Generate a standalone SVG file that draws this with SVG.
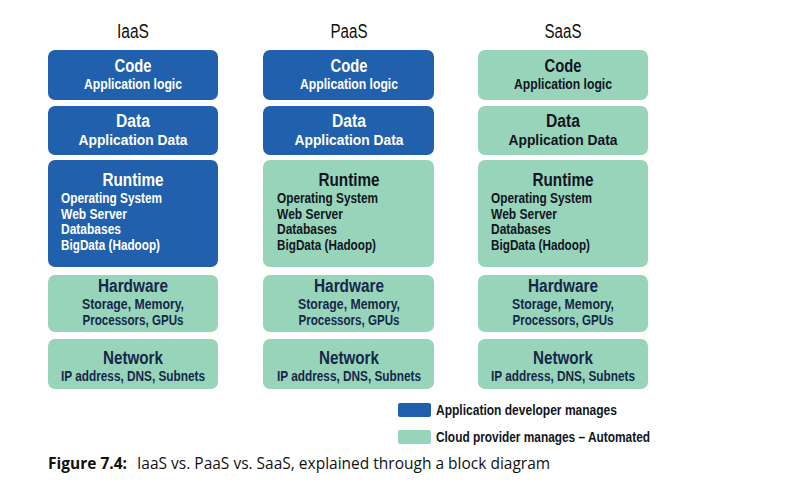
<svg xmlns="http://www.w3.org/2000/svg" width="808" height="483" viewBox="0 0 808 483">
<style>
.b{fill:#2160ad}
.g{fill:#98d4b9}
.t{font-family:"Liberation Sans",Arial,sans-serif;font-weight:bold;text-anchor:middle}
.h{font-size:18px}
.s{font-size:14px}
.m{font-size:15.5px}
.l{text-anchor:start}
.w{fill:#ffffff}
.k{fill:#111522}
.n{fill:#15284a}
.title{font-family:"Liberation Sans",Arial,sans-serif;font-size:20px;text-anchor:middle;fill:#111}
.cap{font-family:"Open Sans","Noto Sans",sans-serif;font-size:15.5px;fill:#111}
</style>
<rect width="808" height="483" fill="#fff"/>
<g id="titles">
<text class="title" x="133" y="38" textLength="32" lengthAdjust="spacingAndGlyphs">IaaS</text>
<text class="title" x="349" y="38" textLength="37" lengthAdjust="spacingAndGlyphs">PaaS</text>
<text class="title" x="563" y="38" textLength="37" lengthAdjust="spacingAndGlyphs">SaaS</text>
</g>
<!-- IaaS -->
<g id="iaas-code"><rect class="b" x="48" y="50" width="170" height="50" rx="7"/>
<text class="t h w" x="133" y="72" textLength="37" lengthAdjust="spacingAndGlyphs">Code</text><text class="t s w" x="133" y="88.5" textLength="98" lengthAdjust="spacingAndGlyphs">Application logic</text></g>
<g id="iaas-data"><rect class="b" x="48" y="106" width="170" height="49" rx="7"/>
<text class="t h w" x="133" y="126.5" textLength="34" lengthAdjust="spacingAndGlyphs">Data</text><text class="t m w" x="133" y="145" textLength="109" lengthAdjust="spacingAndGlyphs">Application Data</text></g>
<g id="iaas-runtime"><rect class="b" x="48" y="160" width="170" height="107" rx="7"/>
<text class="t h w" x="133" y="186" textLength="61" lengthAdjust="spacingAndGlyphs">Runtime</text>
<text class="t s w l" x="61" y="203" textLength="101" lengthAdjust="spacingAndGlyphs">Operating System</text>
<text class="t s w l" x="61" y="218.5" textLength="66" lengthAdjust="spacingAndGlyphs">Web Server</text>
<text class="t s w l" x="61" y="234" textLength="60" lengthAdjust="spacingAndGlyphs">Databases</text>
<text class="t s w l" x="61" y="249.5" textLength="99" lengthAdjust="spacingAndGlyphs">BigData (Hadoop)</text></g>
<g id="iaas-hardware"><rect class="g" x="48" y="275" width="170" height="57" rx="7"/>
<text class="t h n" x="133" y="292" textLength="70" lengthAdjust="spacingAndGlyphs">Hardware</text><text class="t s n" x="133" y="308.5" textLength="102" lengthAdjust="spacingAndGlyphs">Storage, Memory,</text><text class="t s n" x="133" y="325" textLength="101" lengthAdjust="spacingAndGlyphs">Processors, GPUs</text></g>
<g id="iaas-network"><rect class="g" x="48" y="339" width="170" height="50" rx="7"/>
<text class="t h n" x="133" y="363.5" textLength="60" lengthAdjust="spacingAndGlyphs">Network</text><text class="t s n" x="133" y="380.5" textLength="144" lengthAdjust="spacingAndGlyphs">IP address, DNS, Subnets</text></g>
<!-- PaaS -->
<g id="paas-code"><rect class="b" x="263" y="50" width="171" height="50" rx="7"/>
<text class="t h w" x="349" y="72" textLength="37" lengthAdjust="spacingAndGlyphs">Code</text><text class="t s w" x="349" y="88.5" textLength="98" lengthAdjust="spacingAndGlyphs">Application logic</text></g>
<g id="paas-data"><rect class="b" x="263" y="106" width="171" height="49" rx="7"/>
<text class="t h w" x="349" y="126.5" textLength="34" lengthAdjust="spacingAndGlyphs">Data</text><text class="t m w" x="349" y="145" textLength="109" lengthAdjust="spacingAndGlyphs">Application Data</text></g>
<g id="paas-runtime"><rect class="g" x="263" y="160" width="171" height="107" rx="7"/>
<text class="t h k" x="349" y="186" textLength="61" lengthAdjust="spacingAndGlyphs">Runtime</text>
<text class="t s k l" x="277" y="203" textLength="101" lengthAdjust="spacingAndGlyphs">Operating System</text>
<text class="t s k l" x="277" y="218.5" textLength="66" lengthAdjust="spacingAndGlyphs">Web Server</text>
<text class="t s k l" x="277" y="234" textLength="60" lengthAdjust="spacingAndGlyphs">Databases</text>
<text class="t s k l" x="277" y="249.5" textLength="99" lengthAdjust="spacingAndGlyphs">BigData (Hadoop)</text></g>
<g id="paas-hardware"><rect class="g" x="263" y="275" width="171" height="57" rx="7"/>
<text class="t h n" x="349" y="292" textLength="70" lengthAdjust="spacingAndGlyphs">Hardware</text><text class="t s n" x="349" y="308.5" textLength="102" lengthAdjust="spacingAndGlyphs">Storage, Memory,</text><text class="t s n" x="349" y="325" textLength="101" lengthAdjust="spacingAndGlyphs">Processors, GPUs</text></g>
<g id="paas-network"><rect class="g" x="263" y="339" width="171" height="50" rx="7"/>
<text class="t h n" x="349" y="363.5" textLength="60" lengthAdjust="spacingAndGlyphs">Network</text><text class="t s n" x="349" y="380.5" textLength="144" lengthAdjust="spacingAndGlyphs">IP address, DNS, Subnets</text></g>
<!-- SaaS -->
<g id="saas-code"><rect class="g" x="478" y="50" width="170" height="50" rx="7"/>
<text class="t h k" x="563" y="72" textLength="37" lengthAdjust="spacingAndGlyphs">Code</text><text class="t s k" x="563" y="88.5" textLength="98" lengthAdjust="spacingAndGlyphs">Application logic</text></g>
<g id="saas-data"><rect class="g" x="478" y="106" width="170" height="49" rx="7"/>
<text class="t h k" x="563" y="126.5" textLength="34" lengthAdjust="spacingAndGlyphs">Data</text><text class="t m k" x="563" y="145" textLength="109" lengthAdjust="spacingAndGlyphs">Application Data</text></g>
<g id="saas-runtime"><rect class="g" x="478" y="160" width="170" height="107" rx="7"/>
<text class="t h k" x="563" y="186" textLength="61" lengthAdjust="spacingAndGlyphs">Runtime</text>
<text class="t s k l" x="491" y="203" textLength="101" lengthAdjust="spacingAndGlyphs">Operating System</text>
<text class="t s k l" x="491" y="218.5" textLength="66" lengthAdjust="spacingAndGlyphs">Web Server</text>
<text class="t s k l" x="491" y="234" textLength="60" lengthAdjust="spacingAndGlyphs">Databases</text>
<text class="t s k l" x="491" y="249.5" textLength="99" lengthAdjust="spacingAndGlyphs">BigData (Hadoop)</text></g>
<g id="saas-hardware"><rect class="g" x="478" y="275" width="170" height="57" rx="7"/>
<text class="t h n" x="563" y="292" textLength="70" lengthAdjust="spacingAndGlyphs">Hardware</text><text class="t s n" x="563" y="308.5" textLength="102" lengthAdjust="spacingAndGlyphs">Storage, Memory,</text><text class="t s n" x="563" y="325" textLength="101" lengthAdjust="spacingAndGlyphs">Processors, GPUs</text></g>
<g id="saas-network"><rect class="g" x="478" y="339" width="170" height="50" rx="7"/>
<text class="t h n" x="563" y="363.5" textLength="60" lengthAdjust="spacingAndGlyphs">Network</text><text class="t s n" x="563" y="380.5" textLength="144" lengthAdjust="spacingAndGlyphs">IP address, DNS, Subnets</text></g>
<g id="legend">
<rect class="b" x="398" y="403" width="33" height="14" rx="2"/>
<text class="t s k l" x="436" y="415" textLength="181" lengthAdjust="spacingAndGlyphs">Application developer manages</text>
<rect class="g" x="398" y="430" width="33" height="14" rx="2"/>
<text class="t s k l" x="436" y="442" textLength="214" lengthAdjust="spacingAndGlyphs">Cloud provider manages – Automated</text>
</g>
<g id="caption">
<text class="cap" x="48" y="468.5"><tspan font-weight="bold">Figure 7.4:</tspan><tspan x="137">IaaS vs. PaaS vs. SaaS, explained through a block diagram</tspan></text>
</g>
<g id="connectors"/>
</svg>
